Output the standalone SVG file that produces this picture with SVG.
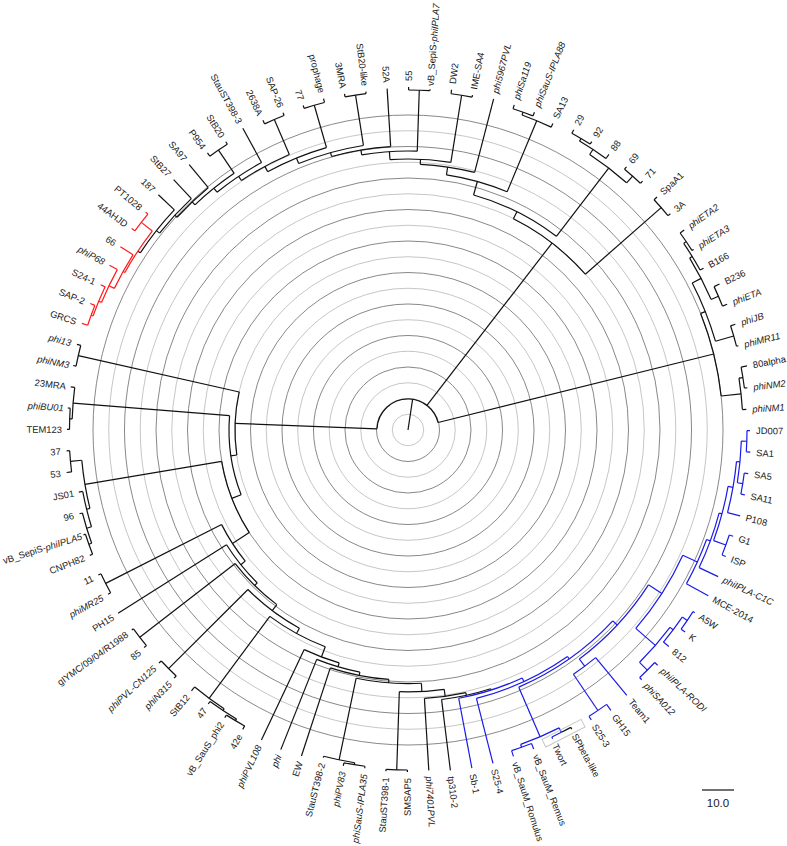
<svg xmlns="http://www.w3.org/2000/svg" width="787" height="846" viewBox="0 0 787 846">
<style>
.gl{fill:none;stroke:#b8b8b8;stroke-width:0.8}
.gd{fill:none;stroke:#6a6a6a;stroke-width:0.8}
.t{font-family:"Liberation Sans",Arial,sans-serif;font-size:9.4px;fill:#1a1a1a;dominant-baseline:central}
.e{text-anchor:end}
.i{font-style:italic}
</style>
<rect width="787" height="846" fill="#fff"/>
<g id="grid" transform="translate(408,430)">
<circle class="gl" r="15.75"/><circle class="gd" r="31.5"/><circle class="gl" r="47.25"/><circle class="gd" r="63"/>
<circle class="gl" r="78.75"/><circle class="gd" r="94.5"/><circle class="gl" r="110.25"/><circle class="gd" r="126"/>
<circle class="gl" r="141.75"/><circle class="gd" r="157.5"/><circle class="gl" r="173.25"/><circle class="gd" r="189"/>
<circle class="gl" r="204.75"/><circle class="gd" r="220.5"/><circle class="gl" r="236.25"/><circle class="gd" r="252"/>
<circle class="gl" r="267.75"/><circle class="gd" r="283.5"/><circle class="gl" r="299.25"/><circle class="gd" r="315"/>
</g>
<g id="connectors" transform="translate(408,430)" fill="none" stroke-width="1.2">
<g stroke="#111">
<line x2="31" transform="rotate(278.5)"/>
<circle r="31" pathLength="360" stroke-dasharray="163.84 360" transform="rotate(182.2)"/>
<line x1="31" x2="173" transform="rotate(182.2)"/>
<line x1="31" x2="236" transform="rotate(307.61)"/>
<line x1="31" x2="315" transform="rotate(346.04)"/>
<circle r="321" pathLength="360" stroke-dasharray="9.8 360" transform="rotate(213.5)"/>
<line x1="321" x2="324" transform="rotate(213.5)"/><line x1="321" x2="343" transform="rotate(223.3)"/>
<circle r="317" pathLength="360" stroke-dasharray="8.5 360" transform="rotate(218.4)"/>
<line x1="317" x2="321" transform="rotate(218.4)"/><line x1="317" x2="343" transform="rotate(226.9)"/>
<circle r="314" pathLength="360" stroke-dasharray="7.85 360" transform="rotate(222.65)"/>
<line x1="314" x2="317" transform="rotate(222.65)"/><line x1="314" x2="344" transform="rotate(230.5)"/>
<circle r="338" pathLength="360" stroke-dasharray="3.6 360" transform="rotate(234.1)"/>
<line x1="338" x2="342" transform="rotate(234.1)"/><line x1="338" x2="341" transform="rotate(237.7)"/>
<circle r="310" pathLength="360" stroke-dasharray="9.32 360" transform="rotate(226.58)"/>
<line x1="310" x2="314" transform="rotate(226.58)"/><line x1="310" x2="338" transform="rotate(235.9)"/>
<circle r="305" pathLength="360" stroke-dasharray="10.06 360" transform="rotate(231.24)"/>
<line x1="305" x2="310" transform="rotate(231.24)"/><line x1="305" x2="344" transform="rotate(241.3)"/>
<circle r="338" pathLength="360" stroke-dasharray="3.6 360" transform="rotate(244.9)"/>
<line x1="338" x2="342" transform="rotate(244.9)"/><line x1="338" x2="341" transform="rotate(248.5)"/>
<circle r="300" pathLength="360" stroke-dasharray="10.43 360" transform="rotate(236.27)"/>
<line x1="300" x2="305" transform="rotate(236.27)"/><line x1="300" x2="338" transform="rotate(246.7)"/>
<circle r="338" pathLength="360" stroke-dasharray="3.6 360" transform="rotate(252.1)"/>
<line x1="338" x2="341" transform="rotate(252.1)"/><line x1="338" x2="342" transform="rotate(255.7)"/>
<circle r="294" pathLength="360" stroke-dasharray="12.41 360" transform="rotate(241.49)"/>
<line x1="294" x2="300" transform="rotate(241.49)"/><line x1="294" x2="338" transform="rotate(253.9)"/>
<circle r="339" pathLength="360" stroke-dasharray="3.6 360" transform="rotate(259.3)"/>
<line x1="339" x2="342" transform="rotate(259.3)"/><line x1="339" x2="341" transform="rotate(262.9)"/>
<circle r="288" pathLength="360" stroke-dasharray="13.4 360" transform="rotate(247.7)"/>
<line x1="288" x2="294" transform="rotate(247.7)"/><line x1="288" x2="339" transform="rotate(261.1)"/>
<circle r="284" pathLength="360" stroke-dasharray="12.1 360" transform="rotate(254.4)"/>
<line x1="284" x2="288" transform="rotate(254.4)"/><line x1="284" x2="342" transform="rotate(266.5)"/>
<circle r="340" pathLength="360" stroke-dasharray="3.6 360" transform="rotate(270.1)"/>
<line x1="340" x2="343" transform="rotate(270.1)"/><line x1="340" x2="341.5" transform="rotate(273.7)"/>
<circle r="279" pathLength="360" stroke-dasharray="11.45 360" transform="rotate(260.45)"/>
<line x1="279" x2="284" transform="rotate(260.45)"/><line x1="279" x2="340" transform="rotate(271.9)"/>
<circle r="339" pathLength="360" stroke-dasharray="3.6 360" transform="rotate(277.3)"/>
<line x1="339" x2="343" transform="rotate(277.3)"/><line x1="339" x2="341" transform="rotate(280.9)"/>
<circle r="271" pathLength="360" stroke-dasharray="12.92 360" transform="rotate(266.18)"/>
<line x1="271" x2="279" transform="rotate(266.18)"/><line x1="271" x2="339" transform="rotate(279.1)"/>
<circle r="266" pathLength="360" stroke-dasharray="11.86 360" transform="rotate(272.64)"/>
<line x1="266" x2="271" transform="rotate(272.64)"/><line x1="266" x2="342" transform="rotate(284.5)"/>
<circle r="338" pathLength="360" stroke-dasharray="3.6 360" transform="rotate(288.1)"/>
<line x1="338" x2="342" transform="rotate(288.1)"/><line x1="338" x2="342" transform="rotate(291.7)"/>
<circle r="335" pathLength="360" stroke-dasharray="5.4 360" transform="rotate(289.9)"/>
<line x1="335" x2="338" transform="rotate(289.9)"/><line x1="335" x2="339" transform="rotate(295.3)"/>
<circle r="258" pathLength="360" stroke-dasharray="14.03 360" transform="rotate(278.57)"/>
<line x1="258" x2="266" transform="rotate(278.57)"/><line x1="258" x2="335" transform="rotate(292.6)"/>
<circle r="339" pathLength="360" stroke-dasharray="3.6 360" transform="rotate(298.9)"/>
<line x1="339" x2="343" transform="rotate(298.9)"/><line x1="339" x2="342" transform="rotate(302.5)"/>
<circle r="336" pathLength="360" stroke-dasharray="5.4 360" transform="rotate(300.7)"/>
<line x1="336" x2="339" transform="rotate(300.7)"/><line x1="336" x2="341" transform="rotate(306.1)"/>
<circle r="339" pathLength="360" stroke-dasharray="3.6 360" transform="rotate(309.7)"/>
<line x1="339" x2="342" transform="rotate(309.7)"/><line x1="339" x2="342" transform="rotate(313.3)"/>
<circle r="330" pathLength="360" stroke-dasharray="8.1 360" transform="rotate(303.4)"/>
<line x1="330" x2="336" transform="rotate(303.4)"/><line x1="330" x2="339" transform="rotate(311.5)"/>
<circle r="244" pathLength="360" stroke-dasharray="21.86 360" transform="rotate(285.59)"/>
<line x1="244" x2="258" transform="rotate(285.59)"/><line x1="244" x2="330" transform="rotate(307.45)"/>
<circle r="337" pathLength="360" stroke-dasharray="3.6 360" transform="rotate(316.9)"/>
<line x1="337" x2="341" transform="rotate(316.9)"/><line x1="337" x2="340" transform="rotate(320.5)"/>
<circle r="236" pathLength="360" stroke-dasharray="22.18 360" transform="rotate(296.52)"/>
<line x1="236" x2="244" transform="rotate(296.52)"/><line x1="236" x2="337" transform="rotate(318.7)"/>
<circle r="336" pathLength="360" stroke-dasharray="3.6 360" transform="rotate(324.1)"/>
<line x1="336" x2="341" transform="rotate(324.1)"/><line x1="336" x2="338" transform="rotate(327.7)"/>
<circle r="333" pathLength="360" stroke-dasharray="5.4 360" transform="rotate(325.9)"/>
<line x1="333" x2="336" transform="rotate(325.9)"/><line x1="333" x2="337" transform="rotate(331.3)"/>
<circle r="338" pathLength="360" stroke-dasharray="3.6 360" transform="rotate(334.9)"/>
<line x1="338" x2="344" transform="rotate(334.9)"/><line x1="338" x2="343" transform="rotate(338.5)"/>
<circle r="330" pathLength="360" stroke-dasharray="8.1 360" transform="rotate(328.6)"/>
<line x1="330" x2="333" transform="rotate(328.6)"/><line x1="330" x2="338" transform="rotate(336.7)"/>
<circle r="339" pathLength="360" stroke-dasharray="3.6 360" transform="rotate(342.1)"/>
<line x1="339" x2="344" transform="rotate(342.1)"/><line x1="339" x2="341" transform="rotate(345.7)"/>
<circle r="320" pathLength="360" stroke-dasharray="11.25 360" transform="rotate(332.65)"/>
<line x1="320" x2="330" transform="rotate(332.65)"/><line x1="320" x2="339" transform="rotate(343.9)"/>
<circle r="339" pathLength="360" stroke-dasharray="3.6 360" transform="rotate(349.3)"/>
<line x1="339" x2="345" transform="rotate(349.3)"/><line x1="339" x2="342" transform="rotate(352.9)"/>
<circle r="335" pathLength="360" stroke-dasharray="5.4 360" transform="rotate(351.1)"/>
<line x1="335" x2="339" transform="rotate(351.1)"/><line x1="335" x2="339" transform="rotate(356.5)"/>
<circle r="315" pathLength="360" stroke-dasharray="15.52 360" transform="rotate(338.28)"/>
<line x1="315" x2="320" transform="rotate(338.28)"/><line x1="315" x2="335" transform="rotate(353.8)"/>
<circle r="338" pathLength="360" stroke-dasharray="3.6 360" transform="rotate(190.9)"/>
<line x1="338" x2="341" transform="rotate(190.9)"/><line x1="338" x2="342" transform="rotate(194.5)"/>
<circle r="338.5" pathLength="360" stroke-dasharray="3.6 360" transform="rotate(180.1)"/>
<line x1="338.5" x2="341" transform="rotate(180.1)"/><line x1="338.5" x2="341" transform="rotate(183.7)"/>
<circle r="336" pathLength="360" stroke-dasharray="5.4 360" transform="rotate(181.9)"/>
<line x1="336" x2="338.5" transform="rotate(181.9)"/><line x1="336" x2="340" transform="rotate(187.3)"/>
<circle r="179" pathLength="360" stroke-dasharray="25.82 360" transform="rotate(158.78)"/>
<line x1="179" x2="189" transform="rotate(158.78)"/><line x1="179" x2="336" transform="rotate(184.6)"/>
<circle r="173" pathLength="360" stroke-dasharray="21.01 360" transform="rotate(171.69)"/>
<line x1="173" x2="179" transform="rotate(171.69)"/><line x1="173" x2="338" transform="rotate(192.7)"/>
<circle r="339" pathLength="360" stroke-dasharray="3.6 360" transform="rotate(172.9)"/>
<line x1="339" x2="344" transform="rotate(172.9)"/><line x1="339" x2="342" transform="rotate(176.5)"/>
<circle r="339" pathLength="360" stroke-dasharray="3.6 360" transform="rotate(158.5)"/>
<line x1="339" x2="342" transform="rotate(158.5)"/><line x1="339" x2="341" transform="rotate(162.1)"/>
<circle r="336" pathLength="360" stroke-dasharray="5.4 360" transform="rotate(160.3)"/>
<line x1="336" x2="339" transform="rotate(160.3)"/><line x1="336" x2="339" transform="rotate(165.7)"/>
<circle r="331" pathLength="360" stroke-dasharray="6.3 360" transform="rotate(163)"/>
<line x1="331" x2="336" transform="rotate(163)"/><line x1="331" x2="335" transform="rotate(169.3)"/>
<circle r="327.6" pathLength="360" stroke-dasharray="8.55 360" transform="rotate(166.15)"/>
<line x1="327.6" x2="331" transform="rotate(166.15)"/><line x1="327.6" x2="339" transform="rotate(174.7)"/>
<circle r="189" pathLength="360" stroke-dasharray="23.3 360" transform="rotate(147.13)"/>
<line x1="189" x2="209" transform="rotate(147.13)"/><line x1="189" x2="327.6" transform="rotate(170.43)"/>
<circle r="339" pathLength="360" stroke-dasharray="3.6 360" transform="rotate(151.3)"/>
<line x1="339" x2="342" transform="rotate(151.3)"/><line x1="339" x2="342" transform="rotate(154.9)"/>
<circle r="209" pathLength="360" stroke-dasharray="11.95 360" transform="rotate(141.15)"/>
<line x1="209" x2="214.7" transform="rotate(141.15)"/><line x1="209" x2="339" transform="rotate(153.1)"/>
<circle r="214.7" pathLength="360" stroke-dasharray="13.1 360" transform="rotate(134.6)"/>
<line x1="214.7" x2="218.4" transform="rotate(134.6)"/><line x1="214.7" x2="343" transform="rotate(147.7)"/>
<circle r="339" pathLength="360" stroke-dasharray="3.6 360" transform="rotate(140.5)"/>
<line x1="339" x2="342" transform="rotate(140.5)"/><line x1="339" x2="341" transform="rotate(144.1)"/>
<circle r="218.4" pathLength="360" stroke-dasharray="15.39 360" transform="rotate(126.91)"/>
<line x1="218.4" x2="226" transform="rotate(126.91)"/><line x1="218.4" x2="339" transform="rotate(142.3)"/>
<circle r="338" pathLength="360" stroke-dasharray="3.6 360" transform="rotate(133.3)"/>
<line x1="338" x2="341" transform="rotate(133.3)"/><line x1="338" x2="341" transform="rotate(136.9)"/>
<circle r="226" pathLength="360" stroke-dasharray="16.38 360" transform="rotate(118.72)"/>
<line x1="226" x2="232" transform="rotate(118.72)"/><line x1="226" x2="338" transform="rotate(135.1)"/>
<circle r="338" pathLength="360" stroke-dasharray="3.6 360" transform="rotate(118.9)"/>
<line x1="338" x2="342" transform="rotate(118.9)"/><line x1="338" x2="341" transform="rotate(122.5)"/>
<circle r="336" pathLength="360" stroke-dasharray="5.4 360" transform="rotate(120.7)"/>
<line x1="336" x2="338" transform="rotate(120.7)"/><line x1="336" x2="339" transform="rotate(126.1)"/>
<circle r="334" pathLength="360" stroke-dasharray="6.3 360" transform="rotate(123.4)"/>
<line x1="334" x2="336" transform="rotate(123.4)"/><line x1="334" x2="339" transform="rotate(129.7)"/>
<circle r="232" pathLength="360" stroke-dasharray="15.66 360" transform="rotate(110.89)"/>
<line x1="232" x2="242.9" transform="rotate(110.89)"/><line x1="232" x2="334" transform="rotate(126.55)"/>
<circle r="242.9" pathLength="360" stroke-dasharray="8.83 360" transform="rotate(106.47)"/>
<line x1="242.9" x2="246.9" transform="rotate(106.47)"/><line x1="242.9" x2="343" transform="rotate(115.3)"/>
<circle r="246.9" pathLength="360" stroke-dasharray="10.46 360" transform="rotate(101.24)"/>
<line x1="246.9" x2="250.2" transform="rotate(101.24)"/><line x1="246.9" x2="344" transform="rotate(111.7)"/>
<circle r="250.2" pathLength="360" stroke-dasharray="13.71 360" transform="rotate(94.39)"/>
<line x1="250.2" x2="253.6" transform="rotate(94.39)"/><line x1="250.2" x2="343" transform="rotate(108.1)"/>
<circle r="339" pathLength="360" stroke-dasharray="3.6 360" transform="rotate(97.3)"/>
<line x1="339" x2="341" transform="rotate(97.3)"/><line x1="339" x2="342" transform="rotate(100.9)"/>
<circle r="337" pathLength="360" stroke-dasharray="5.4 360" transform="rotate(99.1)"/>
<line x1="337" x2="339" transform="rotate(99.1)"/><line x1="337" x2="338.5" transform="rotate(104.5)"/>
<circle r="253.6" pathLength="360" stroke-dasharray="14.83 360" transform="rotate(86.97)"/>
<line x1="253.6" x2="261.8" transform="rotate(86.97)"/><line x1="253.6" x2="337" transform="rotate(101.8)"/>
<circle r="340" pathLength="360" stroke-dasharray="3.6 360" transform="rotate(90.1)"/>
<line x1="340" x2="342" transform="rotate(90.1)"/><line x1="340" x2="342" transform="rotate(93.7)"/>
<circle r="261.8" pathLength="360" stroke-dasharray="9.85 360" transform="rotate(82.05)"/>
<line x1="261.8" x2="268.9" transform="rotate(82.05)"/><line x1="261.8" x2="340" transform="rotate(91.9)"/>
<circle r="268.9" pathLength="360" stroke-dasharray="8.91 360" transform="rotate(77.59)"/>
<line x1="268.9" x2="271.6" transform="rotate(77.59)"/><line x1="268.9" x2="341" transform="rotate(86.5)"/>
<circle r="271.6" pathLength="360" stroke-dasharray="10.61 360" transform="rotate(72.29)"/>
<line x1="271.6" x2="273" transform="rotate(72.29)"/><line x1="271.6" x2="343" transform="rotate(82.9)"/>
<circle r="339" pathLength="360" stroke-dasharray="1.8 360" transform="rotate(61.3)"/>
<line x1="339" x2="341" transform="rotate(61.3)"/>
</g>
<g stroke="#ff1a1a">
<circle r="337" pathLength="360" stroke-dasharray="3.6 360" transform="rotate(198.1)"/>
<line x1="337" x2="343" transform="rotate(198.1)"/><line x1="337" x2="342" transform="rotate(201.7)"/>
<circle r="335" pathLength="360" stroke-dasharray="5.4 360" transform="rotate(199.9)"/>
<line x1="335" x2="337" transform="rotate(199.9)"/><line x1="335" x2="340" transform="rotate(205.3)"/>
<circle r="332" pathLength="360" stroke-dasharray="6.3 360" transform="rotate(202.6)"/>
<line x1="332" x2="335" transform="rotate(202.6)"/><line x1="332" x2="341" transform="rotate(208.9)"/>
<circle r="326" pathLength="360" stroke-dasharray="6.75 360" transform="rotate(205.75)"/>
<line x1="326" x2="332" transform="rotate(205.75)"/><line x1="326" x2="341" transform="rotate(212.5)"/>
<circle r="338" pathLength="360" stroke-dasharray="3.6 360" transform="rotate(216.1)"/>
<line x1="338" x2="342" transform="rotate(216.1)"/><line x1="338" x2="341" transform="rotate(219.7)"/>
<circle r="324" pathLength="360" stroke-dasharray="8.8 360" transform="rotate(209.1)"/>
<line x1="324" x2="326" transform="rotate(209.1)"/><line x1="324" x2="338" transform="rotate(217.9)"/>
</g>
<g stroke="#1a1ae6">
<circle r="273" pathLength="360" stroke-dasharray="14.03 360" transform="rotate(65.27)"/>
<line x1="273" x2="277" transform="rotate(65.27)"/><line x1="273" x2="344" transform="rotate(79.3)"/>
<circle r="277" pathLength="360" stroke-dasharray="20.85 360" transform="rotate(54.85)"/>
<line x1="277" x2="280" transform="rotate(54.85)"/><line x1="277" x2="344" transform="rotate(75.7)"/>
<circle r="337" pathLength="360" stroke-dasharray="3.6 360" transform="rotate(68.5)"/>
<line x1="337" x2="343" transform="rotate(68.5)"/><line x1="337" x2="343" transform="rotate(72.1)"/>
<circle r="339" pathLength="360" stroke-dasharray="1.8 360" transform="rotate(63.1)"/>
<line x1="339" x2="341" transform="rotate(64.9)"/>
<circle r="334" pathLength="360" stroke-dasharray="7.2 360" transform="rotate(63.1)"/>
<line x1="334" x2="339" transform="rotate(63.1)"/><line x1="334" x2="337" transform="rotate(70.3)"/>
<circle r="280" pathLength="360" stroke-dasharray="23.71 360" transform="rotate(42.99)"/>
<line x1="280" x2="286" transform="rotate(42.99)"/><line x1="280" x2="334" transform="rotate(66.7)"/>
<circle r="338.7" pathLength="360" stroke-dasharray="3.6 360" transform="rotate(54.1)"/>
<line x1="338.7" x2="346" transform="rotate(54.1)"/><line x1="338.7" x2="343" transform="rotate(57.7)"/>
<circle r="295" pathLength="360" stroke-dasharray="5.4 360" transform="rotate(50.5)"/>
<line x1="295" x2="344" transform="rotate(50.5)"/><line x1="295" x2="338.7" transform="rotate(55.9)"/>
<circle r="286" pathLength="360" stroke-dasharray="20.42 360" transform="rotate(32.78)"/>
<line x1="286" x2="302" transform="rotate(32.78)"/><line x1="286" x2="295" transform="rotate(53.2)"/>
<circle r="338" pathLength="360" stroke-dasharray="3.6 360" transform="rotate(32.5)"/>
<line x1="338" x2="340" transform="rotate(32.5)"/><line x1="338" x2="343" transform="rotate(36.1)"/>
<circle r="332" pathLength="360" stroke-dasharray="5.4 360" transform="rotate(34.3)"/>
<line x1="332" x2="338" transform="rotate(34.3)"/><line x1="332" x2="339" transform="rotate(39.7)"/>
<circle r="339" pathLength="360" stroke-dasharray="3.6 360" transform="rotate(43.3)"/>
<line x1="339" x2="343" transform="rotate(43.3)"/><line x1="339" x2="342" transform="rotate(46.9)"/>
<circle r="328" pathLength="360" stroke-dasharray="8.1 360" transform="rotate(37)"/>
<line x1="328" x2="332" transform="rotate(37)"/><line x1="328" x2="339" transform="rotate(45.1)"/>
<circle r="302" pathLength="360" stroke-dasharray="16.54 360" transform="rotate(24.51)"/>
<line x1="302" x2="318" transform="rotate(24.51)"/><line x1="302" x2="328" transform="rotate(41.05)"/>
<circle r="318" pathLength="360" stroke-dasharray="8.77 360" transform="rotate(20.13)"/>
<line x1="318" x2="322" transform="rotate(20.13)"/><line x1="318" x2="343" transform="rotate(28.9)"/>
<circle r="322" pathLength="360" stroke-dasharray="10.35 360" transform="rotate(14.95)"/>
<line x1="322" x2="325" transform="rotate(14.95)"/><line x1="322" x2="343" transform="rotate(25.3)"/>
<circle r="338" pathLength="360" stroke-dasharray="3.6 360" transform="rotate(18.1)"/>
<line x1="338" x2="342" transform="rotate(18.1)"/><line x1="338" x2="342" transform="rotate(21.7)"/>
<circle r="325" pathLength="360" stroke-dasharray="9.9 360" transform="rotate(10)"/>
<line x1="325" x2="330" transform="rotate(10)"/><line x1="325" x2="338" transform="rotate(19.9)"/>
<circle r="330" pathLength="360" stroke-dasharray="9 360" transform="rotate(5.5)"/>
<line x1="330" x2="333.5" transform="rotate(5.5)"/><line x1="330" x2="343" transform="rotate(14.5)"/>
<circle r="339" pathLength="360" stroke-dasharray="3.6 360" transform="rotate(0.1)"/>
<line x1="339" x2="342" transform="rotate(0.1)"/><line x1="339" x2="343" transform="rotate(3.7)"/>
<circle r="339" pathLength="360" stroke-dasharray="3.6 360" transform="rotate(7.3)"/>
<line x1="339" x2="343" transform="rotate(7.3)"/><line x1="339" x2="343" transform="rotate(10.9)"/>
<circle r="333.5" pathLength="360" stroke-dasharray="7.2 360" transform="rotate(1.9)"/>
<line x1="333.5" x2="339" transform="rotate(1.9)"/><line x1="333.5" x2="339" transform="rotate(9.1)"/>
</g>
<rect x="336.5" y="-22" width="8.5" height="44" stroke="#c8c8c8" stroke-width="1" transform="rotate(62.85)"/>
</g>
<g id="leaves" transform="translate(408,430)">
<g id="leaf-52A"><text class="t e" transform="rotate(86.5)" x="-348">52A</text></g>
<g id="leaf-55"><text class="t" transform="rotate(-89.9)" x="349">55</text></g>
<g id="leaf-vB_SepiS-phiIPLA7"><text class="t" transform="rotate(-86.3)" x="345">vB_SepiS-<tspan class="i">phiIPLA7</tspan></text></g>
<g id="leaf-DW2"><text class="t" transform="rotate(-82.7)" x="349">DW2</text></g>
<g id="leaf-IME-SA4"><text class="t" transform="rotate(-79.1)" x="347">IME-SA4</text></g>
<g id="leaf-phi5967PVL"><text class="t i" transform="rotate(-75.5)" x="348">phi5967PVL</text></g>
<g id="leaf-phiSa119"><text class="t i" transform="rotate(-71.9)" x="348">phiSa119</text></g>
<g id="leaf-phiSauS-IPLA88"><text class="t i" transform="rotate(-68.3)" x="348">phiSauS-IPLA88</text></g>
<g id="leaf-SA13"><text class="t" transform="rotate(-64.7)" x="345">SA13</text></g>
<g id="leaf-29"><text class="t" transform="rotate(-61.1)" x="349">29</text></g>
<g id="leaf-92"><text class="t" transform="rotate(-57.5)" x="348">92</text></g>
<g id="leaf-88"><text class="t" transform="rotate(-53.9)" x="347">88</text></g>
<g id="leaf-69"><text class="t" transform="rotate(-50.3)" x="348">69</text></g>
<g id="leaf-71"><text class="t" transform="rotate(-46.7)" x="348">71</text></g>
<g id="leaf-SpaA1"><text class="t" transform="rotate(-43.1)" x="347">SpaA1</text></g>
<g id="leaf-3A"><text class="t" transform="rotate(-39.5)" x="346">3A</text></g>
<g id="leaf-phiETA2"><text class="t i" transform="rotate(-35.9)" x="347">phiETA2</text></g>
<g id="leaf-phiETA3"><text class="t i" transform="rotate(-32.3)" x="344">phiETA3</text></g>
<g id="leaf-B166"><text class="t" transform="rotate(-28.7)" x="343">B166</text></g>
<g id="leaf-B236"><text class="t" transform="rotate(-25.1)" x="350">B236</text></g>
<g id="leaf-phiETA"><text class="t i" transform="rotate(-21.5)" x="349">phiETA</text></g>
<g id="leaf-phiJB"><text class="t i" transform="rotate(-17.9)" x="350">phiJB</text></g>
<g id="leaf-phiMR11"><text class="t i" transform="rotate(-14.3)" x="347">phiMR11</text></g>
<g id="leaf-80alpha"><text class="t" transform="rotate(-10.7)" x="351">80alpha</text></g>
<g id="leaf-phiNM2"><text class="t i" transform="rotate(-7.1)" x="348">phiNM2</text></g>
<g id="leaf-phiNM1"><text class="t i" transform="rotate(-3.5)" x="345">phiNM1</text></g>
<g id="leaf-JD007"><text class="t" transform="rotate(0.1)" x="348">JD007</text></g>
<g id="leaf-SA1"><text class="t" transform="rotate(3.7)" x="349">SA1</text></g>
<g id="leaf-SA5"><text class="t" transform="rotate(7.3)" x="349">SA5</text></g>
<g id="leaf-SA11"><text class="t" transform="rotate(10.9)" x="349">SA11</text></g>
<g id="leaf-P108"><text class="t" transform="rotate(14.5)" x="349">P108</text></g>
<g id="leaf-G1"><text class="t" transform="rotate(18.1)" x="348">G1</text></g>
<g id="leaf-ISP"><text class="t" transform="rotate(21.7)" x="348">ISP</text></g>
<g id="leaf-phiIPLA-C1C"><text class="t i" transform="rotate(25.3)" x="349">phiIPLA-C1C</text></g>
<g id="leaf-MCE-2014"><text class="t" transform="rotate(28.9)" x="349">MCE-2014</text></g>
<g id="leaf-A5W"><text class="t" transform="rotate(32.5)" x="346">A5W</text></g>
<g id="leaf-K"><text class="t" transform="rotate(36.1)" x="349">K</text></g>
<g id="leaf-812"><text class="t" transform="rotate(39.7)" x="345">812</text></g>
<g id="leaf-phiIPLA-RODI"><text class="t i" transform="rotate(43.3)" x="349">phiIPLA-RODI</text></g>
<g id="leaf-phiSA012"><text class="t i" transform="rotate(46.9)" x="348">phiSA012</text></g>
<g id="leaf-Team1"><text class="t" transform="rotate(50.5)" x="350">Team1</text></g>
<g id="leaf-GH15"><text class="t" transform="rotate(54.1)" x="352">GH15</text></g>
<g id="leaf-S25-3"><text class="t" transform="rotate(57.7)" x="349">S25-3</text></g>
<g id="leaf-SPbeta-like"><text class="t" transform="rotate(61.3)" x="347">SPbeta-like</text></g>
<g id="leaf-Twort"><text class="t" transform="rotate(64.9)" x="347">Twort</text></g>
<g id="leaf-vB_SauM_Remus"><text class="t" transform="rotate(68.5)" x="349">vB_SauM_Remus</text></g>
<g id="leaf-vB_SauM_Romulus"><text class="t" transform="rotate(72.1)" x="349">vB_SauM_Romulus</text></g>
<g id="leaf-S25-4"><text class="t" transform="rotate(75.7)" x="350">S25-4</text></g>
<g id="leaf-Sb-1"><text class="t" transform="rotate(79.3)" x="350">Sb-1</text></g>
<g id="leaf-tp310-2"><text class="t" transform="rotate(82.9)" x="349">tp310-2</text></g>
<g id="leaf-phi7401PVL"><text class="t i" transform="rotate(86.5)" x="347">phi7401PVL</text></g>
<g id="leaf-SMSAP5"><text class="t e" transform="rotate(-89.9)" x="-348">SMSAP5</text></g>
<g id="leaf-StauST398-1"><text class="t e" transform="rotate(-86.3)" x="-348">StauST398-1</text></g>
<g id="leaf-phiSauS-IPLA35"><text class="t e i" transform="rotate(-82.7)" x="-347">phiSauS-IPLA35</text></g>
<g id="leaf-phiPV83"><text class="t e i" transform="rotate(-79.1)" x="-348">phiPV83</text></g>
<g id="leaf-StauST398-2"><text class="t e" transform="rotate(-75.5)" x="-344">StauST398-2</text></g>
<g id="leaf-EW"><text class="t e" transform="rotate(-71.9)" x="-349">EW</text></g>
<g id="leaf-phi"><text class="t e i" transform="rotate(-68.3)" x="-350">phi</text></g>
<g id="leaf-phiPVL108"><text class="t e i" transform="rotate(-64.7)" x="-349">phiPVL108</text></g>
<g id="leaf-42e"><text class="t e" transform="rotate(-61.1)" x="-348">42e</text></g>
<g id="leaf-vB_SauS_phi2"><text class="t e" transform="rotate(-57.5)" x="-347">vB_SauS_phi2</text></g>
<g id="leaf-47"><text class="t e" transform="rotate(-53.9)" x="-345">47</text></g>
<g id="leaf-StB12"><text class="t e" transform="rotate(-50.3)" x="-345">StB12</text></g>
<g id="leaf-phiN315"><text class="t e i" transform="rotate(-46.7)" x="-347">phiN315</text></g>
<g id="leaf-phiPVL-CN125"><text class="t e i" transform="rotate(-43.1)" x="-347">phiPVL-CN125</text></g>
<g id="leaf-85"><text class="t e" transform="rotate(-39.5)" x="-348">85</text></g>
<g id="leaf-gIYMC-09-04-R1988"><text class="t e" transform="rotate(-35.9)" x="-347">gIYMC/09/04/R1988</text></g>
<g id="leaf-PH15"><text class="t e" transform="rotate(-32.3)" x="-349">PH15</text></g>
<g id="leaf-phiMR25"><text class="t e i" transform="rotate(-28.7)" x="-348">phiMR25</text></g>
<g id="leaf-11"><text class="t e" transform="rotate(-25.1)" x="-348">11</text></g>
<g id="leaf-CNPH82"><text class="t e" transform="rotate(-21.5)" x="-348">CNPH82</text></g>
<g id="leaf-vB_SepiS-phiIPLA5"><text class="t e" transform="rotate(-17.9)" x="-343">vB_SepiS-<tspan class="i">phiIPLA5</tspan></text></g>
<g id="leaf-96"><text class="t e" transform="rotate(-14.3)" x="-345">96</text></g>
<g id="leaf-JS01"><text class="t e" transform="rotate(-10.7)" x="-340">JS01</text></g>
<g id="leaf-53"><text class="t e" transform="rotate(-7.1)" x="-350">53</text></g>
<g id="leaf-37"><text class="t e" transform="rotate(-3.5)" x="-348">37</text></g>
<g id="leaf-TEM123"><text class="t e" transform="rotate(0.1)" x="-346">TEM123</text></g>
<g id="leaf-phiBU01"><text class="t e i" transform="rotate(3.7)" x="-345">phiBU01</text></g>
<g id="leaf-23MRA"><text class="t e" transform="rotate(7.3)" x="-345">23MRA</text></g>
<g id="leaf-phiNM3"><text class="t e i" transform="rotate(10.9)" x="-345">phiNM3</text></g>
<g id="leaf-phi13"><text class="t e i" transform="rotate(14.5)" x="-348">phi13</text></g>
<g id="leaf-GRCS"><text class="t e" transform="rotate(18.1)" x="-349">GRCS</text></g>
<g id="leaf-SAP-2"><text class="t e" transform="rotate(21.7)" x="-348">SAP-2</text></g>
<g id="leaf-S24-1"><text class="t e" transform="rotate(25.3)" x="-346">S24-1</text></g>
<g id="leaf-phiP68"><text class="t e i" transform="rotate(28.9)" x="-347">phiP68</text></g>
<g id="leaf-66"><text class="t e" transform="rotate(32.5)" x="-347">66</text></g>
<g id="leaf-44AHJD"><text class="t e" transform="rotate(36.1)" x="-348">44AHJD</text></g>
<g id="leaf-PT1028"><text class="t e" transform="rotate(39.7)" x="-347">PT1028</text></g>
<g id="leaf-187"><text class="t e" transform="rotate(43.3)" x="-349">187</text></g>
<g id="leaf-StB27"><text class="t e" transform="rotate(46.9)" x="-349">StB27</text></g>
<g id="leaf-SA97"><text class="t e" transform="rotate(50.5)" x="-350">SA97</text></g>
<g id="leaf-P954"><text class="t e" transform="rotate(54.1)" x="-348">P954</text></g>
<g id="leaf-StB20"><text class="t e" transform="rotate(57.7)" x="-347">StB20</text></g>
<g id="leaf-StauST398-3"><text class="t e" transform="rotate(61.3)" x="-350">StauST398-3</text></g>
<g id="leaf-2638A"><text class="t e" transform="rotate(64.9)" x="-348">2638A</text></g>
<g id="leaf-SAP-26"><text class="t e" transform="rotate(68.5)" x="-347">SAP-26</text></g>
<g id="leaf-77"><text class="t e" transform="rotate(72.1)" x="-347">77</text></g>
<g id="leaf-prophage"><text class="t e" transform="rotate(75.7)" x="-348">prophage</text></g>
<g id="leaf-3MRA"><text class="t e" transform="rotate(79.3)" x="-348">3MRA</text></g>
<g id="leaf-StB20-like"><text class="t e" transform="rotate(82.9)" x="-347">StB20-like</text></g>
</g>
<g id="scale-bar">
<line x1="702" y1="790" x2="734" y2="790" stroke="#111" stroke-width="1.2"/>
<text x="718" y="807" text-anchor="middle" font-family="Liberation Sans, Arial, sans-serif" font-size="11.5" fill="#1a1a1a">10.0</text>
</g>
</svg>
